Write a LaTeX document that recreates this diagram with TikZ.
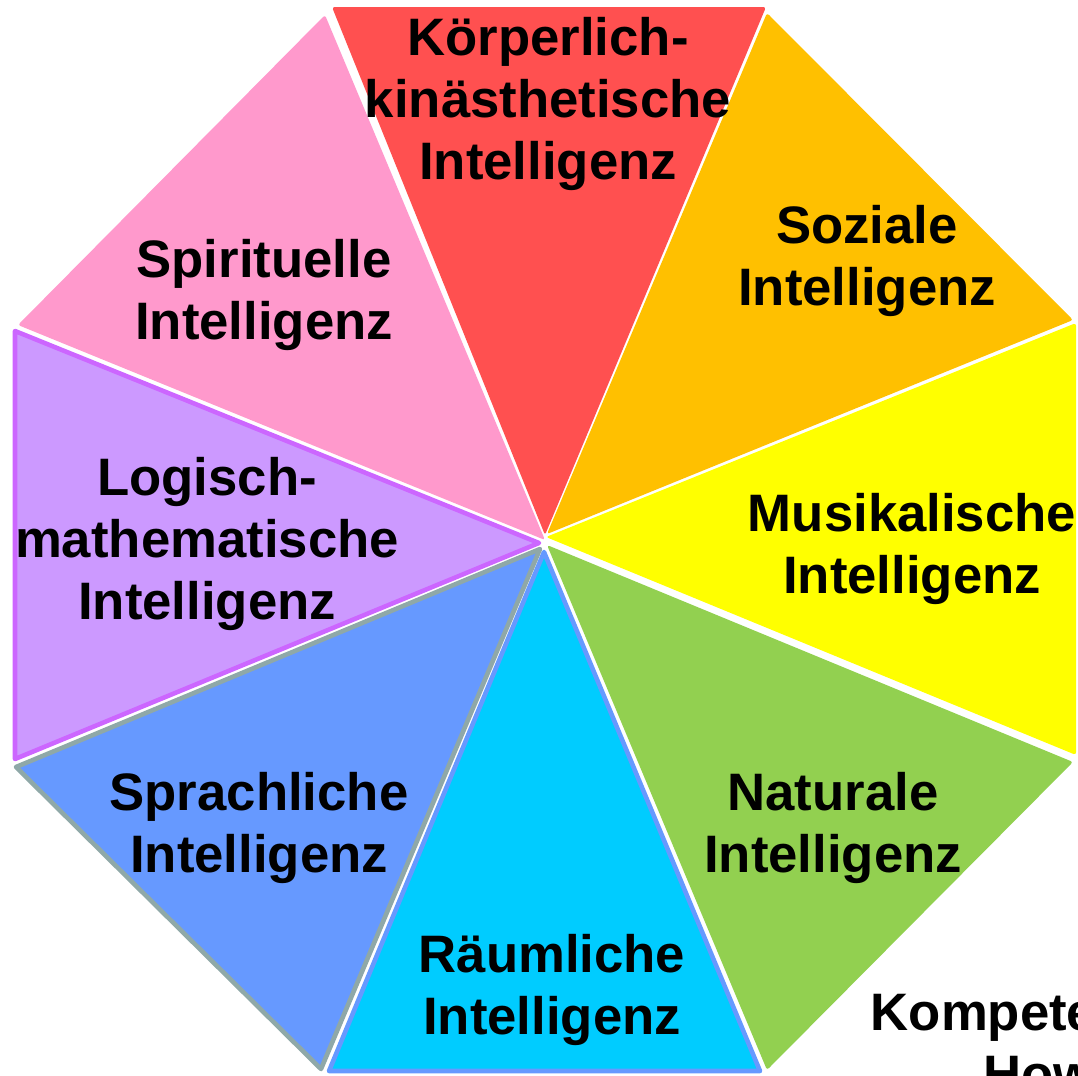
\documentclass[tikz,border=0pt]{standalone}
\usepackage{fontspec}
\setmainfont{Liberation Sans}

\definecolor{rot}{HTML}{FF5050}
\definecolor{orange}{HTML}{FFC000}
\definecolor{gelb}{HTML}{FFFF00}
\definecolor{gruen}{HTML}{92D050}
\definecolor{cyan}{HTML}{00CCFF}
\definecolor{blau}{HTML}{6699FF}
\definecolor{grau}{HTML}{8FA8A8}
\definecolor{lila}{HTML}{CC99FF}
\definecolor{lilarand}{HTML}{CC66FF}
\definecolor{rosa}{HTML}{FF99CC}

\tikzstyle{sektor} = [rounded corners=1.5pt]
\tikzstyle{rand} = [line width=2.6pt, line join=round]
\tikzstyle{txt} = [font=\fontsize{30}{35.2}\selectfont\bfseries, align=center, text=black]

\begin{document}
\begin{tikzpicture}[x=0.02cm, y=-0.02cm]
        \useasboundingbox (0,0) rectangle (1078,1075);
        % Sektoren
        \fill[rot, sektor] (545,535) -- (332,7) -- (766,7) -- cycle;
        \fill[orange, sektor] (547,534) -- (767,13) -- (1073,320) -- cycle;
        \fill[gelb, sektor] (546,537) -- (1076,323) -- (1076,755) -- cycle;
        \fill[gruen, sektor] (547,545) -- (1073,762) -- (767,1070) -- cycle;
        \filldraw[fill=cyan, draw=blau, rand] (544,552) -- (760,1071) -- (329,1071) -- cycle;
        \filldraw[fill=blau, draw=grau, rand] (540,549) -- (321,1069) -- (16,767) -- cycle;
        \filldraw[fill=lila, draw=lilarand, rand] (539,543) -- (15,759) -- (15,331) -- cycle;
        \fill[rosa, sektor] (545,540) -- (18,325) -- (325,15) -- cycle;
        % Beschriftungen
        \node[txt] (koerper) at (548,104) {Körperlich-\\kinästhetische\\Intelligenz};
        \node[txt] (sozial) at (867,261) {Soziale\\Intelligenz};
        \node[txt] (musik) at (912,549) {Musikalische\\Intelligenz};
        \node[txt] (natur) at (833,828) {Naturale\\Intelligenz};
        \node[txt] (raum) at (552,990) {Räumliche\\Intelligenz};
        \node[txt] (sprache) at (259,828) {Sprachliche\\Intelligenz};
        \node[txt] (logik) at (207,544) {Logisch-\\mathematische\\Intelligenz};
        \node[txt] (geist) at (264,295) {Spirituelle\\Intelligenz};
        \node[txt] (titel) at (1190,1043) {Kompetenzbereiche nach\\Howard Gardner};
\end{tikzpicture}
\end{document}
